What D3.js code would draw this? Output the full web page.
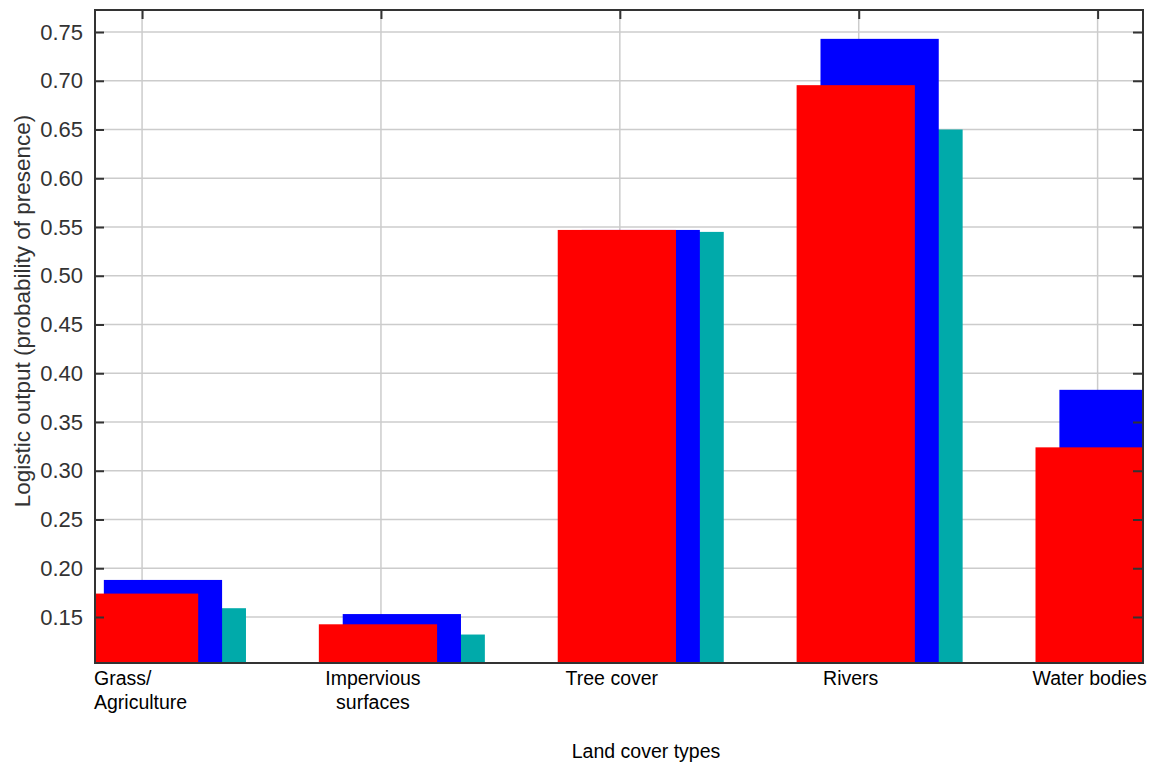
<!DOCTYPE html>
<html>
<head>
<meta charset="utf-8">
<script src="https://d3js.org/d3.v7.min.js"></script>
<style>
  html, body { margin: 0; padding: 0; background: #fff; }
  svg { display: block; }
  text { font-family: "Liberation Sans", Arial, sans-serif; }
</style>
</head>
<body>
<svg id="chart" width="1151" height="769"></svg>
<script>
// ---- data ----
const categories = ["Grass/\nAgriculture", "Impervious\nsurfaces", "Tree cover", "Rivers", "Water bodies"];
const seriesNames = ["cyan", "blue", "red"];
const cyanValues = [0.159, 0.132, 0.545, 0.650, 0.320];
const blueValues = [0.188, 0.153, 0.547, 0.743, 0.383];
const redValues  = [0.174, 0.1425, 0.547, 0.6955, 0.324];
const yTicks = [0.15, 0.20, 0.25, 0.30, 0.35, 0.40, 0.45, 0.50, 0.55, 0.60, 0.65, 0.70, 0.75];
const xTitle = "Land cover types";
const yTitle = "Logistic output (probability of presence)";

(function () {
// ---- layout ----
const pl = 95, pr = 1143, pt = 10, pb = 663;
const svg = d3.select("#chart");

const x = d3.scaleLinear().domain([-0.197, 4.19]).range([pl, pr]);
const y = d3.scaleLinear().domain([0.1028, 0.7726]).range([pb, pt]);

// clip
svg.append("defs").append("clipPath").attr("id", "plotclip")
  .append("rect").attr("x", pl).attr("y", pt).attr("width", pr - pl).attr("height", pb - pt);

// grid
const grid = svg.append("g").attr("clip-path", "url(#plotclip)");
grid.append("g").selectAll("line").data(yTicks).join("line")
  .attr("x1", pl).attr("x2", pr)
  .attr("y1", d => y(d)).attr("y2", d => y(d))
  .attr("stroke", "#cccccc").attr("stroke-width", 1.5);
grid.append("g").selectAll("line").data(categories).join("line")
  .attr("x1", (d, i) => x(i)).attr("x2", (d, i) => x(i))
  .attr("y1", pt).attr("y2", pb)
  .attr("stroke", "#cccccc").attr("stroke-width", 1.5);

// bars
const barW = 0.495;
const offsets = { cyan: -0.06, blue: -0.16, red: -0.26 };
const colors = { cyan: "#00aaaa", blue: "#0000ff", red: "#ff0000" };
const valuesBy = { cyan: cyanValues, blue: blueValues, red: redValues };
const bars = svg.append("g").attr("clip-path", "url(#plotclip)");
seriesNames.forEach(s => {
  bars.append("g").selectAll("rect").data(valuesBy[s]).join("rect")
    .attr("x", (d, i) => x(i + offsets[s]))
    .attr("width", x(barW) - x(0))
    .attr("y", d => y(d))
    .attr("height", d => y.range()[0] - y(d))
    .attr("fill", colors[s]);
});

// frame
svg.append("rect").attr("x", pl).attr("y", pt)
  .attr("width", pr - pl).attr("height", pb - pt)
  .attr("fill", "none").attr("stroke", "#333").attr("stroke-width", 2);

// axes (inward ticks)
const yAxisL = d3.axisLeft(y).tickValues(yTicks).tickFormat(d3.format(".2f")).tickSize(-9).tickPadding(12);
const gL = svg.append("g").attr("transform", `translate(${pl},0)`).call(yAxisL);
gL.select(".domain").remove();
gL.selectAll(".tick line").attr("stroke", "#333").attr("stroke-width", 2);
gL.selectAll(".tick text").attr("font-size", 22).attr("fill", "#333")
  .attr("font-family", "'Liberation Sans', Arial, sans-serif");

const yAxisR = d3.axisRight(y).tickValues(yTicks).tickFormat("").tickSize(-10);
const gR = svg.append("g").attr("transform", `translate(${pr},0)`).call(yAxisR);
gR.select(".domain").remove();
gR.selectAll(".tick line").attr("stroke", "#333").attr("stroke-width", 2);

const xAxisT = d3.axisTop(x).tickValues(d3.range(categories.length)).tickFormat("").tickSize(-9);
const gT = svg.append("g").attr("transform", `translate(0,${pt})`).call(xAxisT);
gT.select(".domain").remove();
gT.selectAll(".tick line").attr("stroke", "#333").attr("stroke-width", 2);

// category labels
const catG = svg.append("g");
categories.forEach((c, i) => {
  const lines = c.split("\n");
  const cx = x(i) - 8;
  const t = catG.append("text").attr("font-size", 19.5).attr("fill", "#000").attr("text-anchor", "middle");
  lines.forEach((ln, k) => {
    t.append("tspan").attr("x", cx).attr("y", 685 + k * 24).text(ln);
  });
  const bb = t.node().getBBox();
  if (bb.x < pl - 1) {
    t.attr("text-anchor", "start");
    t.selectAll("tspan").attr("x", pl - 1);
  }
});

// axis titles
svg.append("text").attr("x", 646).attr("y", 758).attr("text-anchor", "middle")
  .attr("font-size", 19.5).attr("fill", "#000").text(xTitle);
svg.append("text").attr("transform", "translate(30,311) rotate(-90)").attr("text-anchor", "middle")
  .attr("font-size", 22.5).attr("fill", "#333").text(yTitle);
})();
</script>
</body>
</html>
